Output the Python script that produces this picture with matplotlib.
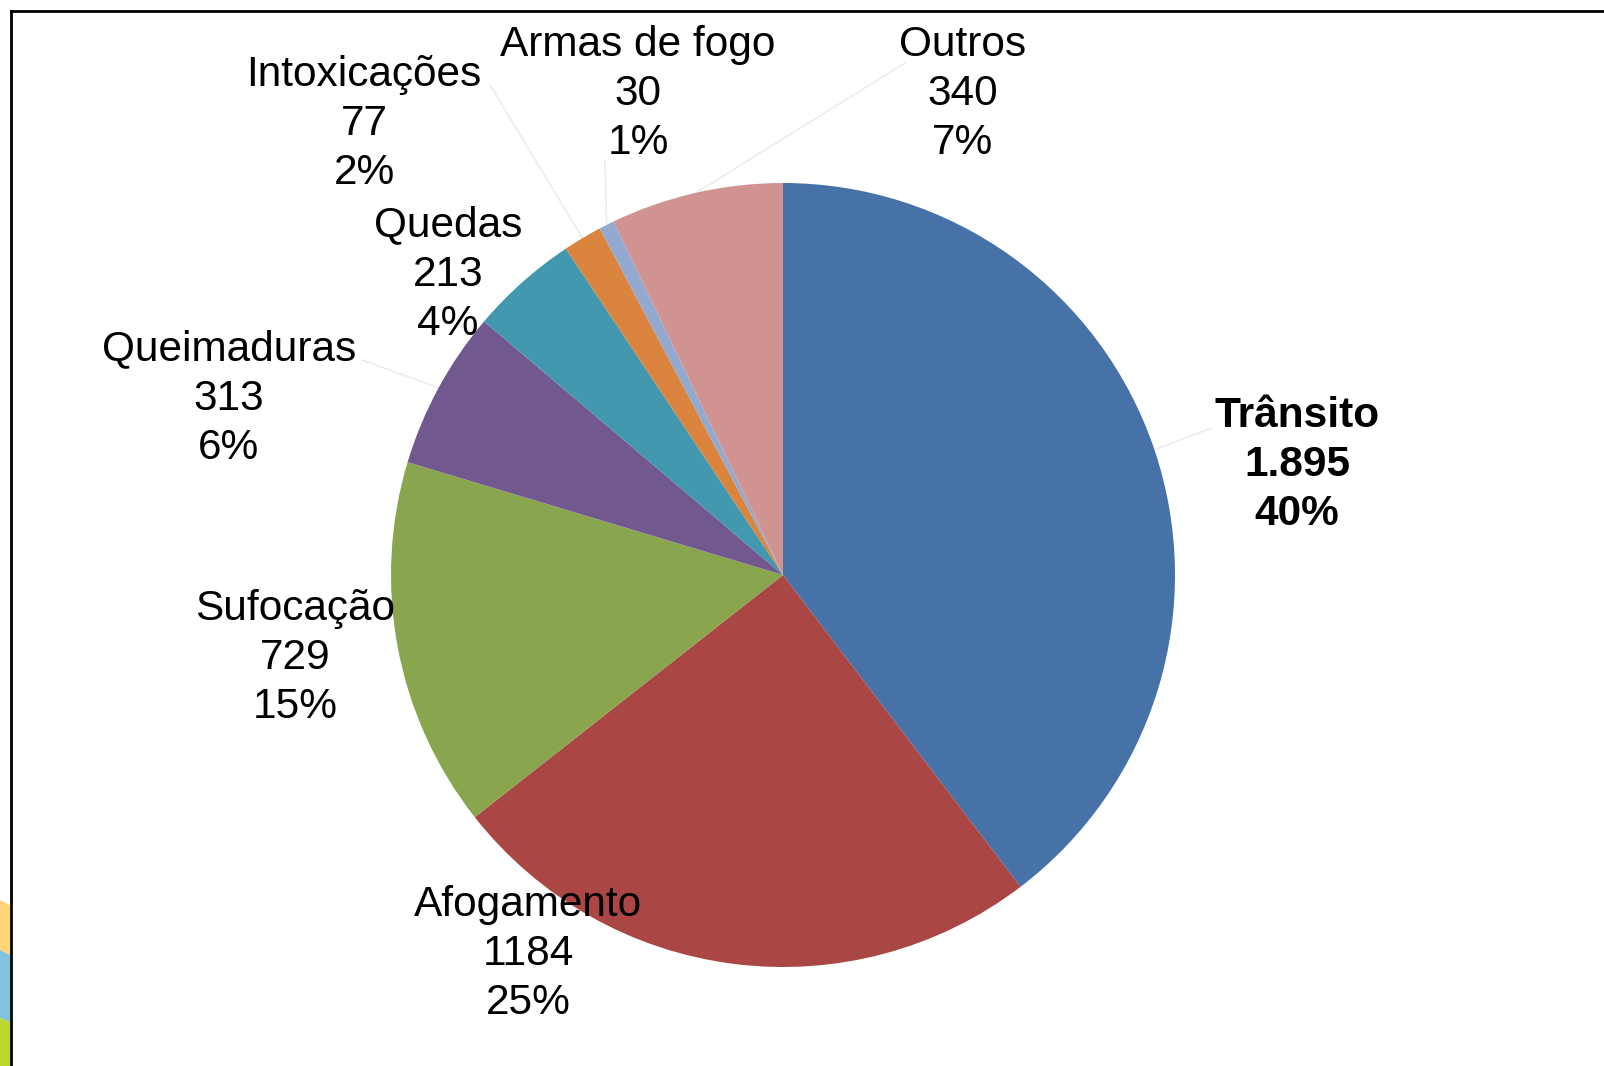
import numpy as np
import matplotlib
matplotlib.use("Agg")
import matplotlib.pyplot as plt
from matplotlib.patches import Polygon
from matplotlib.lines import Line2D

plt.rcParams['font.family'] = ['Liberation Sans', 'DejaVu Sans']

# data
categories = ['Trânsito', 'Afogamento', 'Sufocação', 'Queimaduras', 'Quedas',
              'Intoxicações', 'Armas de fogo', 'Outros']
values = [1895, 1184, 729, 313, 213, 77, 30, 340]
value_labels = ['1.895', '1184', '729', '313', '213', '77', '30', '340']
pct_labels = ['40%', '25%', '15%', '6%', '4%', '2%', '1%', '7%']
colors = ['#4672A8', '#AA4644', '#89A54E', '#71588F', '#4198AF', '#DB843D', '#93A9CF', '#D19392']

W, H = 1604, 1066
fig = plt.figure(figsize=(W / 100, H / 100), dpi=100)
ax = fig.add_axes([0, 0, 1, 1])
ax.set_xlim(0, W)
ax.set_ylim(0, H)
ax.set_aspect('equal')
ax.axis('off')

cx, cy, R = 783, H - 575, 392
wedges, _ = ax.pie(values, colors=colors, startangle=90, counterclock=False,
                   center=(cx, cy), radius=R, frame=True,
                   wedgeprops=dict(linewidth=0))
ax.set_xlim(0, W)
ax.set_ylim(0, H)
ax.axis('off')

# label anchors (pixel coords from top-left), middle line of each label
label_pos = [(1297, 465), (528, 954), (295, 658), (229, 399), (448, 275),
             (364, 124), (638, 94), (963, 94)]
# leader line end points near the labels (None = no leader)
leader_end = [(1212, 428), None, None, (362, 360), None,
              (490, 85), (605, 160), (905, 63)]

for i, name in enumerate(categories):
    x, y = label_pos[i]
    txt = name + '\n' + value_labels[i] + '\n' + pct_labels[i]
    ax.text(x, H - y, txt, ha='center', va='center', fontsize=30.5,
            fontweight='bold' if i == 0 else 'normal', linespacing=1.3,
            color='black')
    if leader_end[i] is not None:
        w = wedges[i]
        mid = np.deg2rad((w.theta1 + w.theta2) / 2)
        ex, ey = cx + R * np.cos(mid), cy + R * np.sin(mid)
        lx, ly = leader_end[i]
        ax.plot([ex, lx], [ey, H - ly], color='#ececec', lw=1.2, zorder=0.5)

# frame lines (top and left)
fig.add_artist(Line2D([11 / W, 1], [1 - 11 / H, 1 - 11 / H], color='black', lw=2,
                      transform=fig.transFigure))
fig.add_artist(Line2D([11 / W, 11 / W], [0, 1 - 11 / H], color='black', lw=2,
                      transform=fig.transFigure))

# decorative strip at the lower left edge
bands = [([(0, 900), (10, 905), (10, 955), (0, 950)], '#FFD57A'),
         ([(0, 950), (10, 955), (10, 1022), (0, 1018)], '#7FC3DF'),
         ([(0, 1018), (10, 1022), (10, 1066), (0, 1066)], '#BDD630')]
for pts, col in bands:
    fig.add_artist(Polygon([(px / W, 1 - py / H) for px, py in pts], closed=True,
                           facecolor=col, edgecolor='none', transform=fig.transFigure))

fig.savefig('out.png', dpi=100, facecolor='white')
